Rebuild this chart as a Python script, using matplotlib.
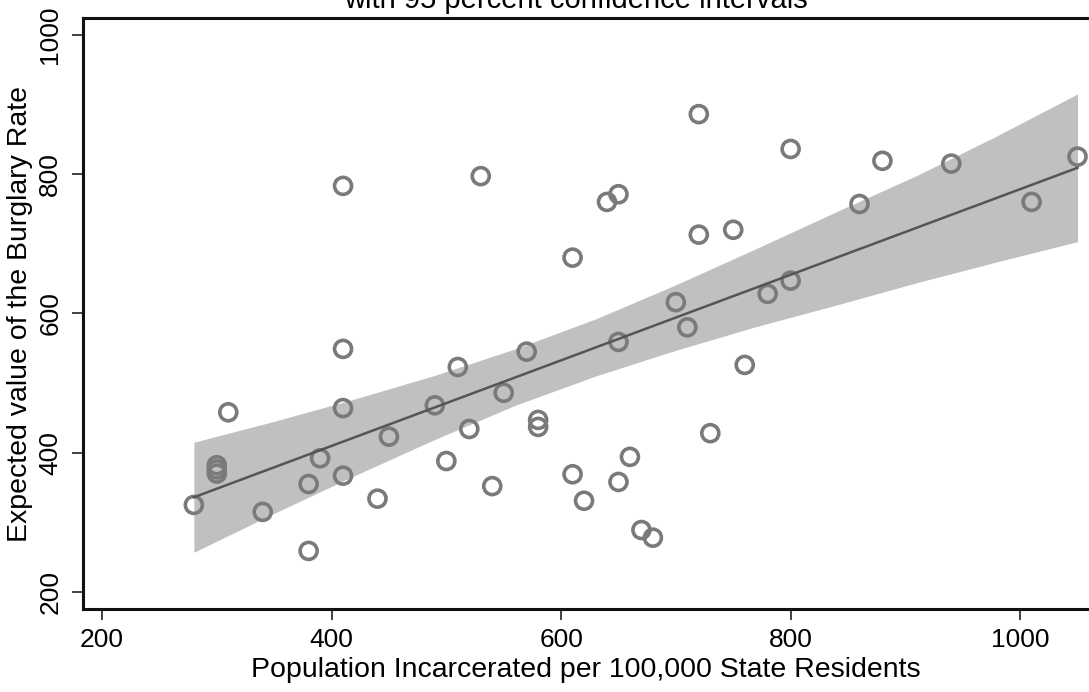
import matplotlib
matplotlib.use('Agg')
import matplotlib.pyplot as plt

plt.rcParams.update({
    'font.family': ['Liberation Sans', 'DejaVu Sans'],
    'font.size': 19,
})

# incarceration rate vs burglary rate, one point per state
incarcerated = [280, 310, 300, 300, 300, 340, 380, 380, 390, 410,
                410, 410, 410, 440, 450, 490, 500, 510, 520, 530,
                540, 550, 570, 580, 580, 610, 610, 620, 640, 650,
                650, 650, 660, 670, 680, 700, 710, 720, 720, 730,
                750, 760, 780, 800, 800, 860, 880, 940, 1010, 1050]
burglary = [325, 458, 382, 376, 370, 315, 355, 259, 392, 783,
            549, 464, 367, 334, 423, 468, 388, 523, 434, 797,
            352, 486, 545, 447, 437, 680, 369, 331, 760, 771,
            559, 358, 394, 289, 278, 616, 580, 886, 713, 428,
            720, 526, 628, 836, 647, 757, 819, 815, 760, 825]

# fitted line and 95% confidence band
fit_x = [280, 350, 420, 490, 560, 630, 700, 770, 840, 910, 980, 1050]
fit_y = [336, 379, 422, 465, 508, 551, 594, 637, 680, 723, 766, 809]
ci_upper = [415, 445, 477, 511, 549, 592, 641, 693, 746, 798, 855, 915]
ci_lower = [257, 313, 367, 419, 468, 510, 547, 581, 612, 644, 674, 703]

fig = plt.figure(figsize=(10.89, 6.92), dpi=100)
ax = fig.add_axes([83 / 1089, 83 / 692, 1 - 83 / 1089, 591 / 692])

ax.fill_between(fit_x, ci_lower, ci_upper, color='#c0c0c0', lw=0, zorder=1)
ax.scatter(incarcerated, burglary, s=150, facecolors='none',
           edgecolors='#7a7a7a', linewidths=2.6, zorder=2)
ax.plot(fit_x, fit_y, color='#555555', lw=1.8, zorder=3)

ax.set_xlim(183.4, 1060)
ax.set_ylim(175.6, 1024)
ax.set_xticks([200, 400, 600, 800, 1000])
ax.set_yticks([200, 400, 600, 800, 1000])
ax.tick_params(axis='both', length=8, width=1.3, color='#333333',
               labelsize=19)
ax.tick_params(axis='x', pad=6)
ax.tick_params(axis='y', pad=7)
for lab in ax.get_yticklabels():
    lab.set_rotation(90)
    lab.set_va('center')

for side in ('left', 'bottom', 'top'):
    ax.spines[side].set_linewidth(2.2)
    ax.spines[side].set_color('#111111')
ax.spines['right'].set_visible(False)

ax.set_xlabel('Population Incarcerated per 100,000 State Residents',
              fontsize=20.5, labelpad=3)
ax.set_ylabel('Expected value of the Burglary Rate', fontsize=20.5,
              labelpad=4)

fig.text(576 / 1089, 1.0, 'with 95 percent confidence intervals',
         ha='center', va='center', fontsize=21)

fig.savefig('out.png', dpi=100)
